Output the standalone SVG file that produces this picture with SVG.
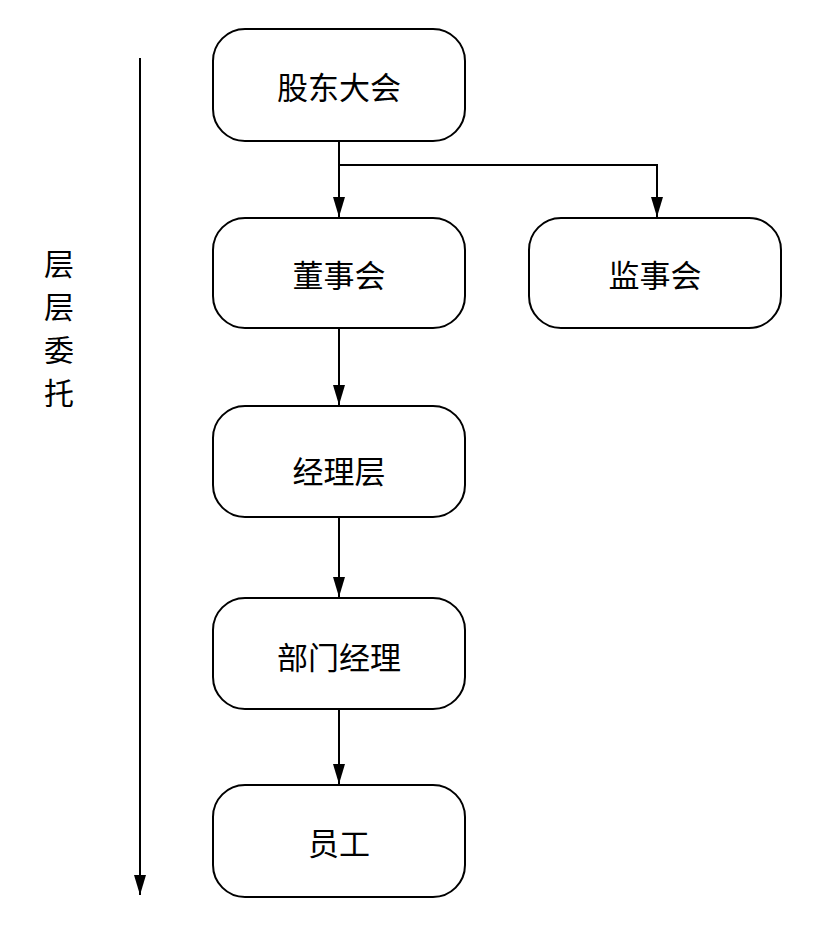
<svg xmlns="http://www.w3.org/2000/svg" width="815" height="929" viewBox="0 0 815 929">
<style>
.box{fill:#fff;stroke:#000;stroke-width:2}
.t{font-family:"Noto Sans CJK SC","Noto Sans",sans-serif;font-size:31px;text-anchor:middle;dominant-baseline:central;fill:#000}
.ln{fill:none;stroke:#000;stroke-width:2}
</style>
<defs>
<marker id="ah" viewBox="0 0 20 12" refX="20" refY="6" markerWidth="20" markerHeight="12" markerUnits="userSpaceOnUse" orient="auto">
<path d="M0,0 L20,6 L0,12 Z" fill="#000"/>
</marker>
</defs>
<rect width="815" height="929" fill="#fff"/>
<g id="connectors">
<line class="ln" x1="339" y1="141" x2="339" y2="217" marker-end="url(#ah)"/>
<polyline class="ln" points="339,165 657,165 657,217" marker-end="url(#ah)"/>
<line class="ln" x1="339" y1="328" x2="339" y2="405" marker-end="url(#ah)"/>
<line class="ln" x1="339" y1="517" x2="339" y2="597" marker-end="url(#ah)"/>
<line class="ln" x1="339" y1="709" x2="339" y2="784" marker-end="url(#ah)"/>
<line class="ln" x1="140" y1="58" x2="140" y2="895" marker-end="url(#ah)"/>
</g>
<g id="n1"><rect class="box" x="213" y="29" width="252" height="112" rx="32"/><text class="t" x="339" y="85">股东大会</text></g>
<g id="n2"><rect class="box" x="213" y="218" width="252" height="110" rx="32"/><text class="t" x="339" y="273">董事会</text></g>
<g id="n3"><rect class="box" x="529" y="218" width="252" height="110" rx="32"/><text class="t" x="655" y="273">监事会</text></g>
<g id="n4"><rect class="box" x="213" y="406" width="252" height="111" rx="32"/><text class="t" x="339" y="469">经理层</text></g>
<g id="n5"><rect class="box" x="213" y="598" width="252" height="111" rx="32"/><text class="t" x="339" y="655">部门经理</text></g>
<g id="n6"><rect class="box" x="213" y="785" width="252" height="112" rx="32"/><text class="t" x="339" y="841">员工</text></g>
<g id="label">
<text class="t" x="59" y="262" style="font-size:30px">层</text>
<text class="t" x="59" y="305" style="font-size:30px">层</text>
<text class="t" x="59" y="348" style="font-size:30px">委</text>
<text class="t" x="59" y="391" style="font-size:30px">托</text>
</g>
</svg>
